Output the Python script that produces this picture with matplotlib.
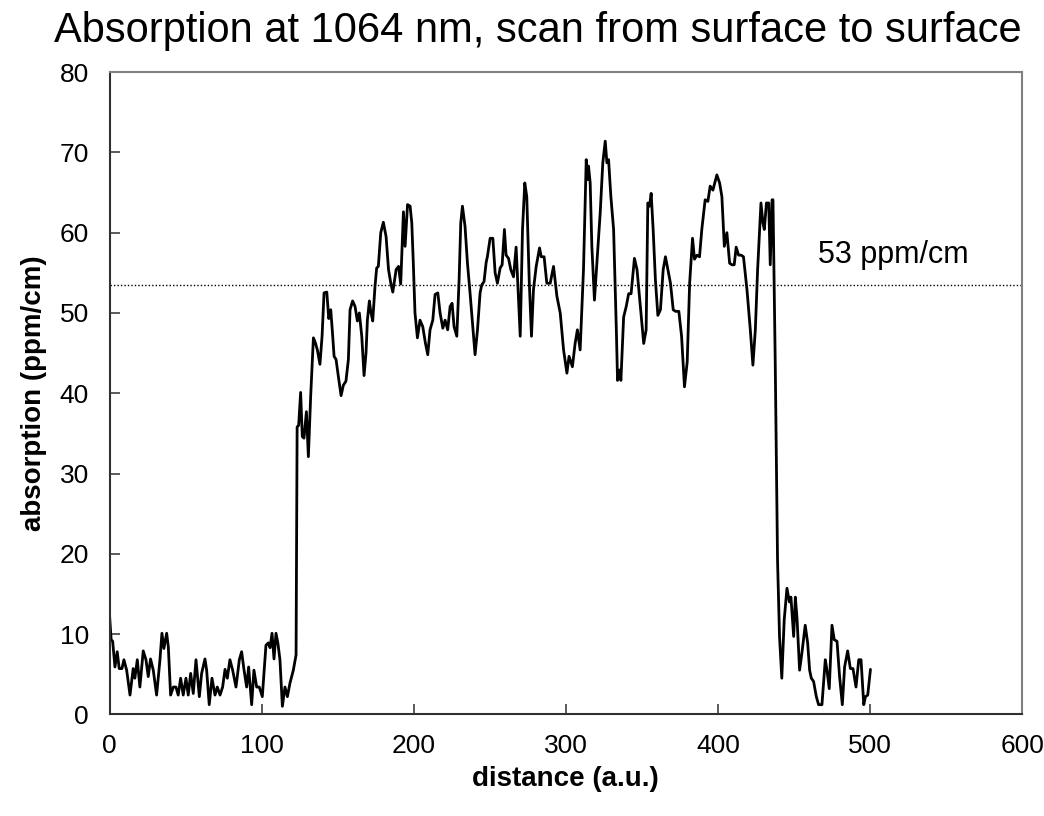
"""
Absorption scan at 1064 nm, surface to surface (line chart + mean line).
Saves out.png.
"""

import matplotlib
matplotlib.use("Agg")
import matplotlib.pyplot as plt

plt.rcParams["font.family"] = ["Liberation Sans", "DejaVu Sans"]

# scan position (a.u.) and absorption (ppm/cm)
distance = [
    0.0, 1.0, 2.0, 3.5, 5.0, 6.3, 8.1, 9.4, 11.2, 13.4, 15.5, 16.6, 18.2, 19.9,
    22.1, 23.9, 25.4, 26.9, 28.7, 30.9, 33.1, 34.4, 35.7, 37.5, 38.6, 40.1,
    41.9, 43.6, 45.1, 46.7, 48.4, 50.2, 51.7, 53.3, 55.0, 56.8, 59.0, 60.5,
    62.7, 63.8, 65.5, 67.3, 69.3, 70.8, 72.6, 74.3, 75.9, 77.4, 79.1, 80.9,
    83.1, 85.3, 86.8, 88.4, 90.1, 91.4, 93.4, 94.9, 96.7, 98.4, 100.4, 102.8,
    104.4, 105.5, 106.8, 108.1, 109.4, 110.7, 112.0, 113.6, 115.3, 116.9,
    118.6, 120.8, 122.6, 123.3, 124.3, 125.6, 126.7, 127.8, 129.4, 130.7,
    132.2, 134.0, 135.1, 136.6, 138.3, 139.7, 141.0, 142.8, 144.1, 145.4,
    146.7, 147.6, 148.9, 150.4, 152.2, 153.7, 155.4, 157.0, 158.1, 159.8,
    161.4, 162.9, 164.2, 165.8, 167.3, 168.6, 169.5, 170.8, 171.7, 173.0,
    174.5, 175.6, 176.7, 178.3, 180.0, 181.8, 183.4, 184.9, 186.2, 188.4,
    190.0, 191.4, 193.2, 194.3, 195.9, 197.6, 198.7, 199.7, 200.8, 202.4,
    204.1, 205.9, 207.7, 209.2, 210.7, 212.5, 214.0, 215.8, 217.3, 219.1,
    220.6, 222.3, 223.9, 225.2, 226.5, 228.3, 229.8, 230.9, 232.0, 233.7,
    235.3, 237.0, 238.8, 240.3, 241.9, 243.6, 244.7, 246.2, 247.6, 248.4,
    250.2, 252.0, 253.5, 255.0, 256.8, 258.1, 259.6, 260.7, 262.3, 263.8,
    265.6, 267.3, 268.4, 270.0, 271.5, 273.0, 274.3, 275.9, 277.4, 278.7,
    280.5, 282.7, 283.8, 285.7, 287.5, 289.7, 291.9, 294.1, 296.3, 298.5,
    300.7, 302.1, 304.3, 306.1, 307.6, 309.4, 311.6, 313.4, 314.2, 314.9,
    316.0, 317.1, 318.8, 320.4, 322.6, 324.3, 325.9, 327.0, 328.1, 329.6,
    331.4, 333.2, 334.0, 335.3, 336.2, 338.0, 339.7, 341.3, 342.9, 345.1,
    346.8, 349.0, 351.2, 352.8, 353.9, 355.0, 356.1, 357.4, 358.9, 360.5,
    362.2, 364.0, 365.5, 367.1, 368.8, 370.6, 372.1, 374.3, 376.1, 378.0,
    379.8, 381.4, 383.3, 384.6, 386.2, 387.9, 389.4, 391.6, 393.4, 394.9,
    396.7, 399.3, 401.1, 402.6, 404.2, 405.9, 407.7, 409.2, 410.7, 412.0,
    413.6, 415.3, 416.8, 419.1, 421.3, 423.0, 424.6, 426.1, 428.3, 429.6,
    430.5, 431.9, 433.4, 434.4, 435.6, 436.2, 437.7, 439.2, 440.5, 442.0,
    443.6, 445.4, 447.0, 448.0, 448.9, 449.8, 450.9, 452.0, 453.7, 455.2,
    457.4, 459.0, 460.3, 461.4, 462.9, 464.7, 466.2, 468.4, 470.6, 471.7,
    473.2, 475.0, 476.5, 478.3, 480.0, 481.8, 483.3, 485.3, 487.1, 488.8,
    490.8, 492.6, 494.1, 495.9, 497.0, 498.5, 500.3,
]
absorption = [
    12.2, 9.3, 9.1, 5.9, 7.8, 5.7, 5.7, 6.8, 5.5, 2.4, 5.7, 4.5, 6.8, 3.4,
    7.9, 6.8, 4.7, 6.9, 5.5, 2.4, 6.8, 10.1, 8.2, 10.1, 8.4, 2.4,
    3.4, 3.4, 2.4, 4.5, 2.4, 4.5, 2.4, 5.1, 2.6, 6.8, 2.2, 5.1,
    6.9, 5.5, 1.2, 4.5, 2.4, 3.4, 2.4, 3.4, 5.6, 4.5, 6.8, 5.5,
    3.4, 6.8, 7.8, 5.5, 3.4, 5.9, 1.2, 5.5, 3.4, 3.4, 2.2, 8.6,
    8.9, 8.3, 10.1, 6.9, 10.1, 8.8, 6.8, 1.0, 3.4, 2.2,
    3.9, 5.5, 7.4, 35.8, 36.0, 40.1, 34.6, 34.4, 37.7, 32.1,
    39.6, 46.9, 46.4, 45.4, 43.6, 47.1, 52.5, 52.6, 49.3, 50.4,
    47.1, 44.6, 44.2, 42.1, 39.7, 41.0, 41.5, 44.2, 50.4, 51.5,
    50.8, 49.0, 50.0, 47.1, 42.2, 45.0, 49.1, 51.5, 50.2, 49.0,
    53.3, 55.6, 55.8, 60.0, 61.3, 59.5, 55.4, 53.7, 52.6, 55.4,
    55.8, 53.6, 62.6, 58.3, 63.5, 63.3, 61.2, 56.2, 50.0, 46.9,
    49.1, 48.3, 46.2, 44.8, 47.9, 49.1, 52.3, 52.5, 50.0, 48.1,
    49.1, 47.9, 50.8, 51.2, 48.3, 47.1, 54.1, 61.2, 63.3, 60.8,
    56.2, 52.5, 48.3, 44.8, 47.9, 52.5, 53.5, 53.9, 56.3, 57.0,
    59.3, 59.3, 55.0, 53.7, 55.6, 56.0, 60.4, 57.2, 56.8, 55.4,
    54.5, 58.2, 53.7, 47.1, 60.4, 66.2, 64.5, 54.1, 47.1, 52.9,
    55.8, 58.1, 57.0, 57.0, 53.7, 53.7, 55.8, 52.1, 50.0, 45.4,
    42.5, 44.6, 43.3, 46.2, 47.9, 45.4, 55.4, 69.1, 66.6, 68.3,
    66.2, 58.3, 51.6, 56.2, 62.5, 68.7, 71.4, 68.7, 69.1, 64.5,
    60.4, 47.9, 41.6, 42.9, 41.6, 49.5, 50.8, 52.4, 52.4, 56.8,
    55.4, 50.8, 46.2, 47.9, 63.7, 63.3, 64.9, 60.4, 54.1, 49.7,
    50.4, 55.4, 57.0, 55.4, 53.7, 50.4, 50.2, 50.2, 47.1, 40.8,
    43.9, 53.7, 59.3, 56.7, 57.2, 57.0, 60.4, 64.1, 63.9, 65.8,
    65.3, 67.2, 66.2, 64.5, 58.3, 60.0, 56.2, 56.0, 56.0, 58.2,
    57.2, 57.2, 57.0, 52.9, 47.9, 43.5, 47.9, 55.4, 63.7, 61.2,
    60.4, 63.7, 63.7, 56.0, 64.1, 64.1, 43.6, 19.2, 9.7, 4.5,
    11.8, 15.7, 14.0, 14.6, 12.2, 9.7, 14.6, 12.0, 5.5, 7.6,
    11.1, 8.9, 5.5, 4.5, 4.1, 2.2, 1.2, 1.2, 6.8, 5.5,
    3.2, 11.1, 9.3, 9.1, 4.7, 1.2, 5.9, 7.9, 5.7, 5.7,
    3.4, 6.8, 6.8, 1.2, 2.2, 2.4, 5.6,
]
mean_level = 53.5
mean_label = "53 ppm/cm"
x_ticks = [0, 100, 200, 300, 400, 500, 600]
y_ticks = [0, 10, 20, 30, 40, 50, 60, 70, 80]

fig = plt.figure(figsize=(10.44, 8.16), dpi=100)
ax = fig.add_axes([0.105, 0.1246, 0.874, 0.787])

ax.plot(distance, absorption, color="black", linewidth=2.0,
        solid_joinstyle="round", solid_capstyle="round")
ax.axhline(mean_level, color="black", linewidth=1.0, linestyle=(0, (1, 1.5)))
ax.text(466, 57.2, mean_label, fontsize=22, va="center", ha="left")

ax.set_xlim(0, 600)
ax.set_ylim(0, 80)
ax.set_xticks(x_ticks)
ax.set_yticks(y_ticks)
ax.tick_params(axis="both", direction="in", length=7, width=1.2,
               labelsize=19, color="#404040")
ax.tick_params(axis="x", pad=14)
ax.tick_params(axis="y", pad=15)

for side in ["left", "bottom"]:
    ax.spines[side].set_color("#303030")
    ax.spines[side].set_linewidth(1.5)
for side in ["top", "right"]:
    ax.spines[side].set_color("#808080")
    ax.spines[side].set_linewidth(1.5)

ax.set_xlabel("distance (a.u.)", fontsize=20, fontweight="bold", labelpad=6)
ax.set_ylabel("absorption (ppm/cm)", fontsize=20, fontweight="bold", labelpad=9)

fig.text(0.515, 1 - 31 / 816, "Absorption at 1064 nm, scan from surface to surface",
         fontsize=30, ha="center", va="center")

fig.savefig("out.png", dpi=100)
print("Saved out.png")
